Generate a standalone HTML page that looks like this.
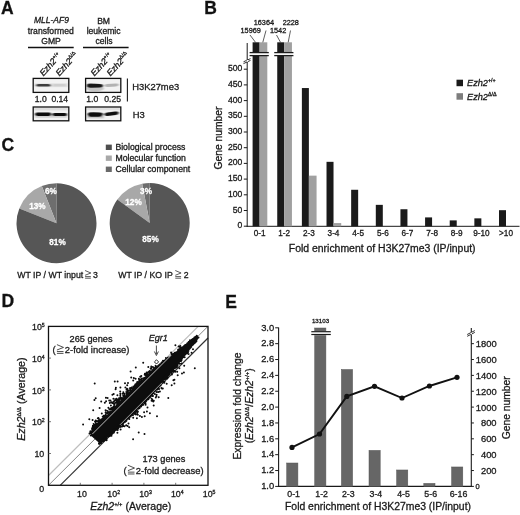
<!DOCTYPE html>
<html><head><meta charset="utf-8"><style>
html,body{margin:0;padding:0;background:#fff;}
svg{display:block;font-family:"Liberation Sans", sans-serif;fill:#1a1a1a;filter:blur(0.3px);}
text{stroke:#1a1a1a;stroke-width:0.3px;}
text[fill="#fff"]{stroke:#fff;}

</style></head><body>
<svg width="520" height="515" viewBox="0 0 520 515">
<rect width="520" height="515" fill="#fff"/>
<text x="1" y="14.4" font-size="17.5" text-anchor="start" font-weight="bold" fill="#111" >A</text>
<text x="204.2" y="14.2" font-size="17.5" text-anchor="start" font-weight="bold" fill="#111" >B</text>
<text x="1.4" y="151.3" font-size="17.5" text-anchor="start" font-weight="bold" fill="#111" >C</text>
<text x="1.5" y="307.4" font-size="17.5" text-anchor="start" font-weight="bold" fill="#111" >D</text>
<text x="225.3" y="308.1" font-size="17.5" text-anchor="start" font-weight="bold" fill="#111" >E</text>
<text x="51.4" y="22.9" font-size="8.5" text-anchor="middle" font-style="italic" >MLL-AF9</text>
<text x="50.8" y="34" font-size="8.6" text-anchor="middle" >transformed</text>
<text x="51" y="43.5" font-size="8.6" text-anchor="middle" >GMP</text>
<line x1="28" y1="47.5" x2="73.7" y2="47.5" stroke="#111" stroke-width="1.3" />
<text x="103.6" y="23.6" font-size="8.6" text-anchor="middle" >BM</text>
<text x="103.6" y="34" font-size="8.6" text-anchor="middle" >leukemic</text>
<text x="104" y="44.3" font-size="8.6" text-anchor="middle" >cells</text>
<line x1="83" y1="47.5" x2="128.6" y2="47.5" stroke="#111" stroke-width="1.3" />
<text transform="translate(43.4,76.6) rotate(-48)" font-size="8.8" font-style="italic">Ezh2<tspan font-size="5.2" dy="-3.6" font-style="normal">+/+</tspan></text>
<text transform="translate(59.4,76.6) rotate(-48)" font-size="8.8" font-style="italic">Ezh2<tspan font-size="5.2" dy="-3.6" font-style="normal">Δ/Δ</tspan></text>
<text transform="translate(94.6,76.6) rotate(-48)" font-size="8.8" font-style="italic">Ezh2<tspan font-size="5.2" dy="-3.6" font-style="normal">+/+</tspan></text>
<text transform="translate(110.6,76.6) rotate(-48)" font-size="8.8" font-style="italic">Ezh2<tspan font-size="5.2" dy="-3.6" font-style="normal">Δ/Δ</tspan></text>
<defs>
<filter id="bl" x="-20%" y="-50%" width="140%" height="200%"><feGaussianBlur stdDeviation="1.2 0.8"/></filter>
<filter id="bl2" x="-20%" y="-50%" width="140%" height="200%"><feGaussianBlur stdDeviation="1.0 0.75"/></filter>
<clipPath id="c1"><rect x="33.8" y="79" width="34.4" height="12.8"/></clipPath>
<clipPath id="c2"><rect x="86.2" y="79" width="34.2" height="12.8"/></clipPath>
<clipPath id="c3"><rect x="33.8" y="107.6" width="34.4" height="12.6"/></clipPath>
<clipPath id="c4"><rect x="86.2" y="107.6" width="34.2" height="12.6"/></clipPath>
</defs>
<rect x="33.8" y="79" width="34.4" height="12.8" fill="#f3f3f3" />
<g clip-path="url(#c1)" filter="url(#bl2)"><rect x="34.5" y="83.2" width="34" height="4" fill="#e4e4e4"/><path d="M35.6,85.2 Q35.8,83.9 39.5,83.9 L48.5,83.9 Q51.2,84.2 51.2,85.2 Q51.2,86.4 48.5,86.5 L39.5,86.6 Q35.8,86.5 35.6,85.2 Z" fill="#3c3c3c"/><rect x="52.6" y="84.0" width="13.6" height="2.6" rx="1.2" fill="#cfcfcf"/></g>
<rect x="33.2" y="78.4" width="35.6" height="14" fill="none" stroke="#111" stroke-width="1.3"/>
<rect x="86.2" y="79" width="34.2" height="12.8" fill="#f2f2f2" />
<g clip-path="url(#c2)" filter="url(#bl2)"><ellipse cx="95" cy="88.6" rx="9" ry="2.6" fill="#c4c4c4"/><path d="M86.6,85.6 Q86.8,83.6 90,83.6 L100,83.9 Q103.2,84.1 103.2,85.6 Q103.2,87.5 100,87.6 L90,87.7 Q86.8,87.6 86.6,85.6 Z" fill="#141414"/><path d="M104.4,85.6 Q104.6,84.2 107,84.1 L116,83.6 Q118.8,83.5 118.8,84.8 Q118.8,86.2 116,86.4 L107,87.0 Q104.4,87.0 104.4,85.6 Z" fill="#b2b2b2"/></g>
<rect x="85.6" y="78.4" width="35.2" height="14" fill="none" stroke="#111" stroke-width="1.3"/>
<rect x="33.8" y="107.6" width="34.4" height="12.6" fill="#f2f2f2" />
<g clip-path="url(#c3)" filter="url(#bl2)"><rect x="33.8" y="108" width="34.4" height="2.4" fill="#dedede"/><rect x="35" y="114.5" width="32" height="3.2" fill="#d0d0d0"/><rect x="35.2" y="112.6" width="16" height="3.3" rx="1.6" fill="#0a0a0a"/><rect x="52.4" y="112.9" width="14.6" height="3.0" rx="1.5" fill="#101010"/></g>
<rect x="33.2" y="107" width="35.6" height="13.8" fill="none" stroke="#111" stroke-width="1.3"/>
<rect x="86.2" y="107.6" width="34.2" height="12.6" fill="#f2f2f2" />
<g clip-path="url(#c4)" filter="url(#bl2)"><rect x="86.2" y="108" width="34.2" height="2.2" fill="#e0e0e0"/><rect x="87" y="115.4" width="17" height="3" fill="#c8c8c8"/><path d="M87.6,114.4 Q87.8,112.1 91.5,112.2 L100,112.4 Q103,112.6 102.9,114.2 Q102.8,116.7 99,116.7 L91.5,116.8 Q87.7,116.7 87.6,114.4 Z" fill="#0a0a0a"/><path d="M104.4,114.4 Q104.6,112.6 107.5,112.6 L115,111.6 Q118.6,111.2 118.6,112.8 Q118.6,114.6 115.5,115.0 L107.5,116.0 Q104.4,116.2 104.4,114.4 Z" fill="#0a0a0a"/></g>
<rect x="85.6" y="107" width="35.2" height="13.8" fill="none" stroke="#111" stroke-width="1.3"/>
<text x="40.8" y="102.4" font-size="8.6" text-anchor="middle" >1.0</text>
<text x="59.8" y="102.4" font-size="8.6" text-anchor="middle" >0.14</text>
<text x="92.2" y="102.4" font-size="8.6" text-anchor="middle" >1.0</text>
<text x="112.7" y="102.4" font-size="8.6" text-anchor="middle" >0.25</text>
<line x1="127.4" y1="78.4" x2="127.4" y2="101.6" stroke="#1a1a1a" stroke-width="1.1" />
<text x="132.2" y="89.6" font-size="9.4" text-anchor="start" >H3K27me3</text>
<text x="132.8" y="118.2" font-size="9.4" text-anchor="start" >H3</text>
<line x1="247.2" y1="43" x2="247.2" y2="226.8" stroke="#1a1a1a" stroke-width="1.0" />
<line x1="246.7" y1="226.3" x2="519.5" y2="226.3" stroke="#1a1a1a" stroke-width="1.0" />
<line x1="243.8" y1="226.2" x2="247.2" y2="226.2" stroke="#1a1a1a" stroke-width="1.0" />
<text x="242.3" y="228.2" font-size="8.6" text-anchor="end" >0</text>
<line x1="243.8" y1="210.5" x2="247.2" y2="210.5" stroke="#1a1a1a" stroke-width="1.0" />
<text x="242.3" y="212.5" font-size="8.6" text-anchor="end" >50</text>
<line x1="243.8" y1="194.79999999999998" x2="247.2" y2="194.79999999999998" stroke="#1a1a1a" stroke-width="1.0" />
<text x="242.3" y="196.79999999999998" font-size="8.6" text-anchor="end" >100</text>
<line x1="243.8" y1="179.1" x2="247.2" y2="179.1" stroke="#1a1a1a" stroke-width="1.0" />
<text x="242.3" y="181.1" font-size="8.6" text-anchor="end" >150</text>
<line x1="243.8" y1="163.39999999999998" x2="247.2" y2="163.39999999999998" stroke="#1a1a1a" stroke-width="1.0" />
<text x="242.3" y="165.39999999999998" font-size="8.6" text-anchor="end" >200</text>
<line x1="243.8" y1="147.7" x2="247.2" y2="147.7" stroke="#1a1a1a" stroke-width="1.0" />
<text x="242.3" y="149.7" font-size="8.6" text-anchor="end" >250</text>
<line x1="243.8" y1="132.0" x2="247.2" y2="132.0" stroke="#1a1a1a" stroke-width="1.0" />
<text x="242.3" y="134.0" font-size="8.6" text-anchor="end" >300</text>
<line x1="243.8" y1="116.29999999999998" x2="247.2" y2="116.29999999999998" stroke="#1a1a1a" stroke-width="1.0" />
<text x="242.3" y="118.29999999999998" font-size="8.6" text-anchor="end" >350</text>
<line x1="243.8" y1="100.6" x2="247.2" y2="100.6" stroke="#1a1a1a" stroke-width="1.0" />
<text x="242.3" y="102.6" font-size="8.6" text-anchor="end" >400</text>
<line x1="243.8" y1="84.89999999999998" x2="247.2" y2="84.89999999999998" stroke="#1a1a1a" stroke-width="1.0" />
<text x="242.3" y="86.89999999999998" font-size="8.6" text-anchor="end" >450</text>
<line x1="243.8" y1="69.19999999999999" x2="247.2" y2="69.19999999999999" stroke="#1a1a1a" stroke-width="1.0" />
<text x="242.3" y="71.19999999999999" font-size="8.6" text-anchor="end" >500</text>
<line x1="243.5" y1="61.8" x2="250.5" y2="58.6" stroke="#1a1a1a" stroke-width="0.9" />
<line x1="243.5" y1="63.6" x2="250.5" y2="60.4" stroke="#1a1a1a" stroke-width="0.9" />
<rect x="246.6" y="60.0" width="1.4" height="1.8" fill="#fff" />
<rect x="252.6" y="42.3" width="7" height="184.0" fill="#1a1a1a" />
<rect x="259.6" y="42.3" width="7.7" height="184.0" fill="#a0a0a0" />
<rect x="249.6" y="52.2" width="19.2" height="3.8" fill="#fff" />
<line x1="249.6" y1="52.6" x2="268.8" y2="52.6" stroke="#1a1a1a" stroke-width="1.3" />
<line x1="249.6" y1="55.6" x2="268.8" y2="55.6" stroke="#1a1a1a" stroke-width="1.3" />
<text x="259.6" y="236.4" font-size="8.2" text-anchor="middle" >0-1</text>
<rect x="277.24" y="42.3" width="7" height="184.0" fill="#1a1a1a" />
<rect x="284.24" y="42.3" width="7.7" height="184.0" fill="#a0a0a0" />
<rect x="274.24" y="52.2" width="19.2" height="3.8" fill="#fff" />
<line x1="274.24" y1="52.6" x2="293.44" y2="52.6" stroke="#1a1a1a" stroke-width="1.3" />
<line x1="274.24" y1="55.6" x2="293.44" y2="55.6" stroke="#1a1a1a" stroke-width="1.3" />
<text x="284.24" y="236.4" font-size="8.2" text-anchor="middle" >1-2</text>
<rect x="301.88" y="88.03999999999999" width="7" height="138.26000000000002" fill="#1a1a1a" />
<rect x="308.88" y="175.646" width="7.7" height="50.654000000000025" fill="#a0a0a0" />
<text x="308.88" y="236.4" font-size="8.2" text-anchor="middle" >2-3</text>
<rect x="326.52" y="161.82999999999998" width="7" height="64.47000000000003" fill="#1a1a1a" />
<rect x="333.52" y="223.06" width="7.7" height="3.240000000000009" fill="#a0a0a0" />
<text x="333.52" y="236.4" font-size="8.2" text-anchor="middle" >3-4</text>
<rect x="351.15999999999997" y="189.77599999999998" width="7" height="36.52400000000003" fill="#1a1a1a" />
<text x="358.15999999999997" y="236.4" font-size="8.2" text-anchor="middle" >4-5</text>
<rect x="375.8" y="204.84799999999998" width="7" height="21.452000000000027" fill="#1a1a1a" />
<text x="382.8" y="236.4" font-size="8.2" text-anchor="middle" >5-6</text>
<rect x="400.44" y="209.244" width="7" height="17.05600000000001" fill="#1a1a1a" />
<text x="407.44" y="236.4" font-size="8.2" text-anchor="middle" >6-7</text>
<rect x="425.08000000000004" y="217.408" width="7" height="8.892000000000024" fill="#1a1a1a" />
<text x="432.08000000000004" y="236.4" font-size="8.2" text-anchor="middle" >7-8</text>
<rect x="449.72" y="220.391" width="7" height="5.90900000000002" fill="#1a1a1a" />
<text x="456.72" y="236.4" font-size="8.2" text-anchor="middle" >8-9</text>
<rect x="474.36" y="218.35" width="7" height="7.950000000000017" fill="#1a1a1a" />
<text x="481.36" y="236.4" font-size="8.2" text-anchor="middle" >9-10</text>
<rect x="499.0" y="210.18599999999998" width="7" height="16.114000000000033" fill="#1a1a1a" />
<text x="506.0" y="236.4" font-size="8.2" text-anchor="middle" >&gt;10</text>
<text x="250.7" y="32.8" font-size="7.3" text-anchor="middle" >15969</text>
<text x="263.9" y="24.7" font-size="7.3" text-anchor="middle" >16364</text>
<text x="278.1" y="32.8" font-size="7.3" text-anchor="middle" >1542</text>
<text x="290.8" y="24.7" font-size="7.3" text-anchor="middle" >2228</text>
<line x1="250" y1="35" x2="255.5" y2="42.3" stroke="#1a1a1a" stroke-width="0.7" />
<line x1="266" y1="30.5" x2="262.8" y2="42.3" stroke="#1a1a1a" stroke-width="0.7" />
<line x1="276.5" y1="35" x2="280.5" y2="42.3" stroke="#1a1a1a" stroke-width="0.7" />
<line x1="290.5" y1="30.5" x2="288.2" y2="42.3" stroke="#1a1a1a" stroke-width="0.7" />
<text x="382.2" y="251.6" font-size="10.45" text-anchor="middle" >Fold enrichment of H3K27me3 (IP/input)</text>
<text transform="translate(222,138) rotate(-90)" font-size="10.3" text-anchor="middle">Gene number</text>
<rect x="456.5" y="79.7" width="6.5" height="6.5" fill="#1a1a1a" />
<rect x="456.5" y="93.2" width="6.5" height="6.5" fill="#7d7d7d" />
<text x="467" y="86.2" font-size="9.2" font-style="italic">Ezh2<tspan font-size="5.4" dy="-3.8" font-style="normal">+/+</tspan></text>
<text x="467" y="99.8" font-size="9.2" font-style="italic">Ezh2<tspan font-size="5.4" dy="-3.8" font-style="normal">Δ/Δ</tspan></text>
<rect x="105.8" y="144.6" width="6" height="5.4" fill="#4e4e4e" />
<text x="115.4" y="150.1" font-size="8.7" text-anchor="start" >Biological process</text>
<rect x="105.8" y="155.5" width="6" height="5.4" fill="#a8a8a8" />
<text x="115.4" y="161" font-size="8.7" text-anchor="start" >Molecular function</text>
<rect x="105.8" y="166.6" width="6" height="5.4" fill="#6a6a6a" />
<text x="115.4" y="172.2" font-size="8.7" text-anchor="start" >Cellular component</text>
<path d="M56.5,223.2 L56.50,183.20 A40,40 0 0 0 41.78,186.01 Z" fill="#6e6e6e"/>
<path d="M56.5,223.2 L41.78,186.01 A40,40 0 0 0 19.31,208.48 Z" fill="#a8a8a8"/>
<path d="M56.5,223.2 L19.31,208.48 A40,40 0 1 0 56.50,183.20 Z" fill="#565656"/>
<path d="M149.7,223 L149.70,183.00 A40,40 0 0 0 142.20,183.71 Z" fill="#6e6e6e"/>
<path d="M149.7,223 L142.20,183.71 A40,40 0 0 0 117.34,199.49 Z" fill="#a8a8a8"/>
<path d="M149.7,223 L117.34,199.49 A40,40 0 1 0 149.70,183.00 Z" fill="#565656"/>
<text x="50.8" y="194.2" font-size="8.2" text-anchor="middle" font-weight="bold" fill="#fff" >6%</text>
<text x="37.4" y="208.6" font-size="8.2" text-anchor="middle" font-weight="bold" fill="#fff" >13%</text>
<text x="57.5" y="244.6" font-size="8.2" text-anchor="middle" font-weight="bold" fill="#fff" >81%</text>
<text x="146" y="194.2" font-size="8.2" text-anchor="middle" font-weight="bold" fill="#fff" >3%</text>
<text x="133.5" y="205" font-size="8.2" text-anchor="middle" font-weight="bold" fill="#fff" >12%</text>
<text x="150.5" y="242.4" font-size="8.2" text-anchor="middle" font-weight="bold" fill="#fff" >85%</text>
<text x="17.3" y="278.3" font-size="8.72" text-anchor="start" >WT IP / WT input</text>
<g transform="translate(84.8,278.5) scale(0.95)" stroke="#1a1a1a" stroke-width="0.75" fill="none"><polyline points="0.3,-8.4 6.4,-5.8 0.3,-3.4"/><line x1="0.3" y1="-2" x2="6.4" y2="-2"/><line x1="0.3" y1="-0.3" x2="6.4" y2="-0.3"/></g>
<text x="93" y="278.3" font-size="8.72" text-anchor="start" >3</text>
<text x="118.3" y="278.3" font-size="8.72" text-anchor="start" >WT IP / KO IP</text>
<g transform="translate(175,278.5) scale(0.95)" stroke="#1a1a1a" stroke-width="0.75" fill="none"><polyline points="0.3,-8.4 6.4,-5.8 0.3,-3.4"/><line x1="0.3" y1="-2" x2="6.4" y2="-2"/><line x1="0.3" y1="-0.3" x2="6.4" y2="-0.3"/></g>
<text x="183.8" y="278.3" font-size="8.72" text-anchor="start" >2</text>
<line x1="48.5" y1="475.5" x2="198.2" y2="326.3" stroke="#bdbdbd" stroke-width="1.2" />
<line x1="48.5" y1="485.3" x2="208" y2="326.3" stroke="#666" stroke-width="0.8" />
<line x1="60.2" y1="485.3" x2="208" y2="338.0" stroke="#333" stroke-width="1.2" />
<polygon points="90.8,435.6 93.9,430.7 103.6,420.4 138.7,385.5 152.0,372.8 164.8,361.6 176.0,352.8 184.8,345.6 191.4,340.2 196.9,335.7 198.6,337.4 194.4,343.2 189.0,349.8 181.7,358.5 172.4,369.2 161.2,382.0 148.9,395.7 134.3,411.1 119.3,426.1 108.8,435.6 99.2,443.1" fill="#0d0d0d"/>
<path d="M102.0 420.3h0M93.0 431.9h0M96.7 427.0h0M154.6 371.3h0M158.9 367.1h0M178.6 361.1h0M181.6 358.2h0M121.4 424.0h0M136.5 408.5h0M179.9 359.5h0M137.5 386.1h0M185.5 345.7h0M160.2 366.3h0M112.2 412.3h0M125.0 398.6h0M162.9 364.0h0M117.2 429.0h0M162.0 364.4h0M184.3 354.8h0M122.5 401.9h0M101.4 441.1h0M113.4 432.0h0M105.4 437.4h0M102.1 441.4h0M99.1 424.8h0M165.2 360.2h0M112.4 412.4h0M196.6 339.8h0M133.3 388.3h0M94.2 430.8h0M126.4 420.7h0M156.4 388.7h0M178.0 361.9h0M154.5 370.3h0M178.4 361.3h0M93.6 431.1h0M196.7 335.8h0M124.6 395.9h0M155.0 368.7h0M107.9 436.5h0M93.5 430.3h0M156.2 369.8h0M125.4 397.7h0M141.9 405.3h0M108.6 435.6h0M190.1 348.1h0M180.4 359.0h0M137.5 386.6h0M172.0 368.7h0M128.8 418.5h0M103.1 419.5h0M129.8 415.7h0M125.9 421.3h0M166.9 360.4h0M142.7 402.0h0M142.0 380.1h0M99.3 424.3h0M92.9 431.8h0M178.3 361.6h0M169.5 358.6h0M134.9 409.6h0M115.8 429.1h0M174.8 366.2h0M146.0 398.6h0M156.9 387.3h0M175.0 354.4h0M111.7 434.2h0M109.0 435.1h0M143.9 400.4h0M153.9 371.6h0M141.5 383.4h0M181.7 348.9h0M96.4 427.3h0M103.6 439.2h0M102.0 422.0h0M171.5 369.2h0M126.3 418.4h0M133.5 388.4h0M193.8 338.6h0M137.8 408.0h0M95.7 429.5h0M174.0 366.5h0M93.4 428.9h0M188.1 350.1h0M168.2 359.3h0M149.0 375.3h0M180.9 359.0h0M112.0 432.6h0M160.0 366.1h0M130.8 415.5h0M170.0 372.3h0M193.3 338.8h0M117.5 429.4h0M123.7 400.1h0M130.8 393.4h0M140.0 404.2h0M189.4 348.8h0M174.5 354.5h0M130.6 393.5h0M174.4 354.7h0M147.9 396.6h0M137.5 407.3h0M99.8 442.3h0M182.0 348.5h0M90.7 431.8h0M113.4 411.6h0M128.0 395.6h0M184.3 346.3h0M149.9 375.7h0M122.0 401.4h0M158.0 388.7h0M157.9 367.5h0M188.4 350.0h0M181.8 357.3h0M91.9 433.5h0M161.8 364.9h0M169.8 357.9h0M93.1 427.9h0M161.2 365.3h0M177.7 351.9h0M115.0 408.9h0M113.1 432.7h0M131.8 413.5h0M129.1 395.8h0M92.8 432.4h0M118.6 405.5h0M184.1 347.0h0M171.8 369.4h0M108.4 416.4h0M171.1 370.3h0M133.3 391.3h0M170.0 371.5h0M127.2 392.7h0M149.4 394.8h0M179.3 349.6h0M189.0 342.8h0M99.6 425.3h0M180.6 358.8h0M162.5 380.2h0M183.3 356.4h0M119.3 425.7h0M164.7 377.1h0M134.3 412.2h0M184.5 345.8h0M114.9 406.5h0M133.3 413.4h0M195.0 337.8h0M177.6 363.3h0M165.6 361.5h0M112.6 410.4h0M148.4 395.4h0M181.6 357.9h0M193.2 339.4h0M111.8 409.6h0M105.0 418.8h0M137.7 408.1h0M174.3 366.1h0M144.7 379.2h0M112.3 411.2h0M148.7 375.1h0M178.3 351.8h0M104.8 437.9h0M173.3 368.1h0M188.3 343.6h0M168.9 373.4h0M138.9 385.5h0M196.8 339.5h0M178.9 361.7h0M195.1 337.9h0M154.4 390.1h0M159.8 366.4h0M191.3 346.3h0M152.1 391.5h0M185.6 345.9h0M134.1 412.8h0M171.3 369.6h0M110.8 434.6h0M160.6 363.9h0M135.3 387.8h0M154.4 371.6h0M118.8 404.2h0M190.0 342.0h0M188.6 342.5h0M104.4 439.9h0M119.2 426.8h0M194.6 341.8h0M197.1 338.5h0M180.0 349.9h0M141.3 382.9h0M128.2 418.6h0M193.2 344.1h0M150.1 373.9h0M170.0 358.2h0M136.6 385.8h0M135.5 389.1h0M120.5 402.1h0M105.1 415.5h0M191.0 340.9h0M109.6 414.9h0M96.1 425.3h0M150.5 396.5h0M107.3 417.5h0M105.9 415.5h0M164.8 362.0h0M95.1 426.0h0M161.3 365.5h0M168.9 372.4h0M185.8 344.8h0M158.3 386.5h0M196.2 339.6h0M162.0 363.1h0M121.5 403.3h0M100.2 443.3h0M168.8 358.7h0M118.1 426.6h0M177.7 362.1h0M163.1 363.5h0M111.0 433.1h0M124.0 397.3h0M137.1 382.8h0M129.0 415.7h0M186.7 352.1h0M128.8 417.2h0M191.8 339.8h0M163.4 362.5h0M122.7 399.8h0M146.3 398.1h0M178.5 349.9h0M93.2 431.2h0M136.0 388.5h0M185.1 354.5h0M139.8 404.3h0M175.3 366.4h0M134.6 389.8h0M176.7 364.0h0M146.3 401.1h0M181.8 359.0h0M128.1 395.6h0M166.0 361.1h0M170.8 357.2h0M180.6 359.3h0M190.1 347.6h0M134.2 410.4h0M101.8 422.2h0M107.6 417.3h0M159.3 384.6h0M99.4 424.6h0M132.2 390.8h0M100.8 424.1h0M129.9 416.7h0M119.3 405.0h0M146.3 398.6h0M105.4 438.6h0M149.9 375.5h0M128.6 416.2h0M190.5 347.8h0M124.7 421.7h0M152.5 391.5h0M135.4 410.8h0M138.3 384.4h0M157.4 385.2h0M119.6 403.2h0M97.5 425.5h0M136.0 387.7h0M124.1 421.5h0M150.7 372.8h0M149.0 396.1h0M161.4 364.3h0M114.7 407.3h0M130.5 389.9h0M151.8 373.7h0M169.2 372.2h0M136.9 408.4h0M160.4 365.3h0M130.0 393.7h0M99.6 443.1h0M138.5 406.3h0M195.0 338.0h0M141.9 402.8h0M133.6 391.2h0M131.9 392.9h0M135.5 388.6h0M143.7 381.2h0M190.8 341.6h0M154.1 391.5h0M168.0 373.3h0M160.9 365.6h0M174.0 368.0h0M133.6 412.2h0M193.5 343.4h0M133.9 411.9h0M160.0 366.7h0M126.0 419.4h0M143.9 400.4h0M130.8 413.8h0M123.7 400.8h0M146.7 378.0h0M117.2 427.0h0M110.2 412.3h0M181.1 359.3h0M169.1 373.5h0M118.6 426.4h0M155.9 366.8h0M98.8 422.9h0M136.7 411.3h0M129.7 395.2h0M123.4 421.1h0M175.6 353.0h0M135.9 409.8h0M166.0 360.5h0M90.4 431.3h0M182.9 356.5h0M132.1 413.5h0M127.5 418.1h0M136.9 408.5h0M122.2 422.4h0M172.7 367.9h0M149.7 374.5h0M159.7 365.9h0M147.4 397.8h0M108.7 435.2h0M97.7 425.7h0M143.8 380.5h0M125.5 420.0h0M184.6 354.4h0M109.5 435.2h0M175.0 367.3h0M100.8 442.4h0M185.6 344.9h0M92.6 432.6h0M154.8 391.0h0M147.4 396.9h0M143.3 404.7h0M119.1 426.2h0M130.2 392.4h0M149.6 376.0h0M164.1 377.9h0M139.3 405.3h0M103.5 439.0h0M103.6 417.2h0M136.9 408.6h0M102.4 419.8h0M134.0 390.5h0M192.6 344.7h0M116.3 406.6h0M112.9 409.0h0M127.2 418.0h0M100.2 421.5h0M185.7 353.4h0M124.7 420.6h0M131.9 392.8h0M163.4 378.5h0M152.8 390.5h0M103.8 420.3h0M139.6 405.2h0M120.6 424.1h0M116.8 408.2h0M130.8 416.4h0M161.8 381.2h0M102.7 440.4h0M109.4 409.3h0M182.3 348.3h0M180.0 360.7h0M160.2 365.5h0M156.9 387.3h0M127.3 417.4h0M119.4 425.0h0M152.2 391.7h0M150.3 394.5h0M190.6 341.5h0M119.6 405.1h0M178.1 351.1h0M133.3 411.4h0M147.4 397.3h0M183.6 347.0h0M177.8 362.6h0M104.6 417.3h0M140.4 404.1h0M168.4 373.0h0M92.9 425.7h0M166.0 377.1h0M178.8 362.0h0M186.0 353.3h0M175.9 353.2h0M188.5 343.1h0M113.6 430.6h0M173.5 353.7h0M190.2 347.4h0M163.2 379.3h0M116.0 408.9h0M154.0 370.4h0M151.0 374.4h0M114.0 409.4h0M134.9 410.0h0M101.8 421.5h0M171.6 371.0h0M141.2 383.0h0M174.8 365.8h0M144.7 377.8h0M151.4 372.1h0M168.1 359.0h0M121.5 423.4h0M169.3 372.1h0M123.3 423.3h0M171.1 357.1h0M164.4 362.5h0M145.6 398.8h0M190.8 340.9h0M197.7 337.6h0M162.4 362.9h0M175.5 365.0h0M180.9 359.0h0M187.2 344.1h0M181.7 348.0h0M145.3 378.3h0M192.5 344.5h0M175.7 366.3h0M102.6 422.4h0M150.4 375.3h0M124.8 399.0h0M112.6 411.9h0M115.2 408.0h0M104.2 438.9h0M115.1 429.8h0M166.3 361.3h0M127.7 394.3h0M115.2 409.1h0M161.5 364.6h0M178.5 351.5h0M156.1 387.9h0M184.5 346.4h0M157.5 367.6h0M160.2 366.0h0M143.2 400.9h0M107.3 435.9h0M142.5 404.3h0M94.8 429.0h0M177.8 363.0h0M113.1 408.5h0M121.1 424.6h0M112.3 433.1h0M101.7 440.5h0M127.5 418.2h0M168.6 374.6h0M134.4 388.4h0M135.4 389.4h0M168.8 372.4h0M155.5 369.5h0M115.5 407.8h0M123.8 421.5h0M139.3 405.3h0M177.7 363.9h0M131.5 413.4h0M185.1 345.1h0M138.3 385.3h0M181.5 360.3h0M134.2 388.4h0M94.4 430.5h0M184.8 354.1h0M182.2 347.3h0M113.5 406.7h0M124.5 396.9h0M179.6 360.8h0M115.5 407.2h0M92.7 432.2h0M111.7 432.9h0M112.1 409.8h0M134.9 387.6h0M185.9 344.9h0M150.8 374.9h0M195.8 337.1h0M154.0 371.7h0M107.4 436.6h0M95.6 429.6h0M117.1 405.7h0M177.8 362.9h0M182.0 357.6h0M157.7 368.0h0M177.1 352.4h0M180.3 349.7h0M122.2 401.5h0M149.1 396.5h0M193.2 344.5h0M171.7 354.5h0M151.1 371.5h0M162.6 379.7h0M123.1 425.9h0M154.1 370.6h0M120.3 403.3h0M167.2 375.8h0M121.6 423.9h0M166.5 375.1h0M104.3 418.7h0M173.8 366.9h0M170.2 371.9h0M104.9 439.1h0M99.3 423.3h0M173.4 354.1h0M170.2 371.9h0M109.3 435.8h0M175.6 353.3h0M174.6 354.4h0M103.3 441.3h0M140.0 406.9h0M181.7 348.1h0M139.9 404.9h0M166.5 375.0h0M148.9 376.1h0M129.5 414.9h0M140.6 403.5h0M148.0 376.7h0M166.4 375.0h0M116.2 429.7h0M187.8 343.9h0M136.5 388.4h0M196.6 339.6h0M190.2 341.2h0M106.9 416.3h0M166.8 375.0h0M164.8 378.7h0M141.8 381.4h0M160.3 366.1h0M174.7 353.7h0M176.5 352.7h0M187.1 344.4h0M187.3 344.2h0M189.8 342.0h0M165.0 376.6h0M163.6 378.5h0M96.1 425.9h0M142.5 401.9h0M131.6 392.8h0M154.5 390.8h0M179.7 360.8h0M195.1 341.3h0M195.9 341.0h0M112.6 408.5h0M118.7 404.0h0M150.3 373.1h0M132.8 388.5h0M151.9 392.0h0M169.6 372.5h0M148.5 376.5h0M101.3 441.1h0M184.3 346.5h0M195.1 341.2h0M183.3 355.5h0M172.3 369.3h0M172.1 369.3h0M179.9 360.0h0M147.9 396.0h0M154.8 369.3h0M128.8 417.5h0M132.7 411.8h0M117.8 405.0h0M167.7 359.6h0M122.9 399.0h0M103.4 420.4h0M136.6 409.7h0M147.5 376.9h0M91.9 434.9h0M181.7 358.2h0M153.5 390.3h0M173.6 368.1h0M146.6 399.5h0M109.4 434.4h0M188.7 349.4h0M169.4 358.6h0M196.7 338.9h0M145.2 400.2h0M196.5 339.4h0M179.6 359.9h0M153.1 369.8h0M133.2 391.0h0M120.9 424.1h0M187.7 343.4h0M124.5 421.8h0M185.6 345.1h0M152.3 371.8h0M129.7 414.7h0M100.3 441.4h0M160.6 364.3h0M131.7 391.3h0M153.7 389.5h0M106.1 437.0h0M166.6 360.5h0M123.5 399.1h0M160.5 382.1h0M146.1 398.2h0M171.2 369.7h0M146.5 399.0h0M148.5 376.6h0M116.5 406.8h0M176.3 352.3h0M128.7 394.6h0M143.5 402.4h0M196.5 339.8h0M90.3 431.8h0M167.1 360.0h0M123.3 401.6h0M120.5 403.9h0M193.2 343.6h0M95.6 426.4h0M147.1 397.8h0M148.5 375.8h0M108.4 435.0h0M171.2 356.2h0M174.0 353.6h0M117.4 428.0h0M173.3 355.7h0M163.7 361.8h0M147.8 396.2h0M157.1 386.1h0M193.2 339.5h0M91.3 432.1h0M122.7 424.0h0M158.4 385.8h0M114.6 409.3h0M114.5 429.8h0M189.5 348.1h0M124.3 397.8h0M162.0 380.1h0M111.2 432.4h0M97.7 426.9h0M137.6 408.2h0M129.6 415.7h0M115.3 429.2h0M195.6 340.9h0M94.3 430.3h0M158.7 385.4h0M145.4 399.3h0M120.6 404.3h0M162.1 364.8h0M91.6 432.2h0M180.7 359.0h0M126.8 419.3h0M190.4 347.7h0M193.9 339.0h0M114.5 406.5h0M122.4 423.4h0M116.7 405.9h0M164.1 377.7h0M187.6 343.9h0M169.9 357.2h0M109.8 436.1h0M169.9 372.4h0M135.2 413.2h0M104.2 417.4h0M100.8 423.8h0M135.2 386.7h0M139.8 385.0h0M168.5 373.1h0M101.7 440.4h0M166.5 361.0h0M109.9 434.9h0M161.8 362.4h0M93.4 432.0h0M148.7 375.5h0M187.2 343.5h0M111.6 433.4h0M165.9 358.1h0M165.8 375.8h0M111.9 411.5h0M144.6 380.3h0M114.1 406.1h0M169.3 357.5h0M116.0 407.3h0M104.1 438.4h0M144.2 379.8h0M143.1 381.8h0M100.1 442.7h0M165.0 362.1h0M185.6 345.4h0M151.2 393.2h0M156.6 367.6h0M92.2 432.6h0M111.2 435.0h0M178.6 362.0h0M176.8 363.2h0M147.4 397.1h0M148.8 376.0h0M124.4 399.1h0M131.1 414.4h0M113.3 432.2h0M141.5 380.1h0M175.0 367.9h0M99.3 443.1h0M145.6 400.9h0M130.2 392.6h0M134.8 389.5h0M140.9 404.3h0M163.1 380.3h0M97.1 428.1h0M144.6 379.7h0M183.2 356.4h0M114.0 429.9h0M125.8 397.7h0M163.7 378.4h0M164.5 361.6h0M115.7 429.3h0M189.9 347.7h0M106.8 418.0h0M162.0 362.4h0M124.3 398.7h0M187.5 351.4h0M117.5 427.1h0M197.4 338.3h0M168.0 373.8h0M110.8 413.6h0M140.4 405.9h0M174.4 365.9h0M196.9 338.9h0M128.6 395.6h0M189.6 341.4h0M150.6 372.5h0M172.1 356.2h0M98.6 424.1h0M100.5 441.5h0M129.4 416.4h0M194.3 338.6h0M168.0 375.8h0M124.1 400.5h0M178.1 349.8h0M164.7 379.2h0M124.2 400.3h0M154.1 389.2h0M161.3 381.4h0M129.1 395.4h0M155.0 370.7h0M146.7 377.8h0M141.1 403.8h0M146.4 378.3h0M123.9 400.9h0M136.1 388.0h0M112.0 409.5h0M152.4 370.4h0M186.4 352.6h0M195.2 341.1h0M113.7 430.8h0M162.4 362.4h0M135.6 409.0h0M148.7 395.1h0M141.5 402.5h0M190.9 346.9h0M128.9 415.6h0M108.5 436.1h0M157.9 386.8h0M137.6 406.9h0M169.4 373.5h0M177.8 362.5h0M93.5 430.6h0M193.1 339.0h0M119.9 404.3h0M184.2 355.1h0M139.2 405.7h0M132.0 414.6h0M178.7 363.5h0M172.1 355.8h0M136.0 386.8h0M194.6 338.0h0M155.5 388.5h0M167.7 373.5h0M103.2 418.8h0M111.3 433.9h0M140.9 379.6h0M154.2 389.4h0M169.6 358.7h0M154.8 388.2h0M140.1 383.8h0M131.7 414.4h0M163.7 361.8h0M194.6 342.5h0M102.2 421.7h0M140.5 379.8h0M123.2 421.9h0M196.6 339.3h0M108.3 414.2h0M101.7 422.0h0M172.8 368.5h0M131.4 414.9h0M192.8 339.8h0M97.0 427.4h0M170.3 357.8h0M189.5 348.8h0M182.3 358.1h0M191.9 340.4h0M165.9 377.0h0M162.3 362.4h0M193.7 343.5h0M179.6 361.0h0M185.5 353.5h0M194.4 342.8h0M144.2 402.0h0M178.4 349.6h0M104.4 438.9h0M120.4 424.5h0M183.6 355.6h0M119.0 405.3h0M105.9 438.8h0M102.1 419.4h0M94.5 429.2h0M172.1 356.1h0M177.3 363.1h0M196.1 337.0h0M167.7 359.7h0M144.8 379.3h0M179.1 351.1h0M159.1 384.5h0M123.9 422.0h0M137.9 385.6h0M154.7 390.7h0M172.9 356.0h0M114.8 408.6h0M173.0 368.6h0M122.4 423.8h0M113.2 411.8h0M188.9 349.2h0M186.1 344.8h0M175.5 353.5h0M97.3 426.3h0M134.1 389.8h0M134.0 387.3h0M100.1 442.0h0M139.5 384.3h0M139.6 384.0h0M172.3 355.0h0M172.3 368.4h0M105.2 437.5h0M104.3 440.5h0M98.4 425.1h0M149.3 376.1h0M137.6 407.7h0M104.9 438.5h0M114.0 432.5h0M137.6 406.6h0M179.3 360.7h0M97.4 423.6h0M116.2 408.2h0M184.3 354.3h0M120.5 403.6h0M179.0 351.0h0M129.1 395.1h0M170.3 372.0h0M108.2 416.5h0M122.6 423.0h0M118.1 426.3h0M196.6 340.0h0M159.9 364.3h0M184.8 346.4h0M159.0 366.3h0M119.9 404.7h0M114.6 429.5h0M141.1 406.6h0M174.3 354.3h0M110.9 433.3h0M112.0 413.0h0M187.8 350.3h0M152.1 372.1h0M159.2 367.0h0M143.5 380.1h0M181.5 358.0h0M169.5 374.4h0M164.0 362.9h0M124.0 399.0h0M119.1 405.1h0M192.5 344.7h0M167.7 373.9h0M100.0 420.7h0M133.3 411.9h0M102.6 421.0h0M178.1 351.3h0M194.0 338.4h0M158.2 367.0h0M100.3 420.6h0M129.7 395.3h0M148.7 376.3h0M188.7 349.5h0M173.7 367.1h0M140.7 404.6h0M147.9 396.1h0M169.2 371.8h0M138.3 386.5h0M131.7 391.5h0M150.8 373.9h0M155.4 389.7h0M155.6 368.5h0M115.3 409.5h0M166.8 377.7h0M115.1 407.9h0M135.5 410.3h0M95.9 426.6h0M105.8 414.5h0M175.7 367.7h0M106.6 440.2h0M119.5 402.2h0M107.2 417.3h0M132.0 412.6h0M111.1 432.8h0M123.7 420.8h0M160.5 366.2h0M195.2 342.1h0M166.7 376.3h0M144.9 398.9h0M197.7 337.5h0M195.3 341.1h0M138.2 406.1h0M156.7 386.9h0M147.3 398.0h0M110.9 412.3h0M149.9 374.1h0M186.7 352.0h0M115.4 409.4h0M159.9 365.9h0M106.0 418.8h0M152.1 373.6h0M101.3 422.0h0M179.2 360.5h0M181.9 358.1h0M193.4 339.2h0M144.9 379.1h0M99.2 443.9h0M176.7 363.8h0M182.7 348.0h0M156.4 367.2h0M139.8 385.2h0M183.8 355.0h0M154.1 389.1h0M179.8 361.3h0M130.3 392.1h0M170.3 371.2h0M161.9 381.3h0M164.1 361.1h0M130.6 415.9h0M133.1 412.5h0M183.5 347.0h0M186.5 352.2h0M149.1 394.7h0M125.3 421.5h0M93.7 427.9h0M99.9 424.9h0M195.7 340.8h0M121.5 426.5h0M133.4 386.4h0M150.0 393.6h0M98.5 422.7h0M158.8 383.8h0M175.4 353.7h0M187.8 350.3h0M89.5 433.5h0M163.4 362.8h0M175.8 352.9h0M196.4 341.2h0M156.7 388.0h0M186.4 351.9h0M149.8 375.5h0M109.5 413.5h0M153.8 390.5h0M151.3 371.9h0M195.2 341.0h0M186.4 353.1h0M112.5 431.7h0M153.1 369.9h0M183.2 355.6h0M129.4 394.2h0M124.0 420.7h0M186.5 344.5h0M119.3 426.0h0M122.8 401.7h0M189.4 342.1h0M178.7 361.8h0M106.5 439.0h0M141.6 404.9h0M158.2 385.5h0M194.7 341.9h0M176.8 363.3h0M149.5 372.6h0M134.4 410.5h0M93.2 432.6h0M138.1 408.1h0M194.5 343.3h0M156.5 386.3h0M93.6 430.6h0M168.8 358.5h0M157.7 385.4h0M157.9 368.4h0M134.0 387.9h0M99.6 424.7h0M182.6 356.4h0M180.7 358.9h0M190.8 347.1h0M128.7 393.5h0M184.1 346.5h0M164.3 377.8h0M128.0 396.7h0M186.6 344.5h0M182.0 357.5h0M101.3 420.6h0M152.0 394.9h0M154.1 369.6h0M146.9 377.2h0M150.7 393.8h0M183.8 346.3h0M92.3 433.4h0M195.7 337.1h0M129.3 394.1h0M177.1 363.1h0M109.1 413.9h0M162.5 380.9h0M185.8 352.8h0M92.4 430.6h0M115.1 409.3h0M128.7 416.7h0M188.6 350.7h0M137.2 387.1h0M108.6 415.8h0M139.2 405.0h0M174.5 366.0h0M149.3 394.5h0M182.5 357.2h0M181.8 358.6h0M146.1 397.9h0M184.2 354.5h0M172.8 355.5h0M111.1 412.5h0M101.7 423.1h0M195.2 337.0h0M159.5 365.4h0M186.7 344.8h0M153.1 390.7h0M142.5 382.8h0M145.4 399.6h0M119.9 425.0h0M123.6 421.2h0M172.2 368.9h0M156.7 369.2h0M194.9 338.2h0M187.5 350.9h0M155.4 368.0h0M161.6 381.8h0M136.8 408.7h0M168.7 359.3h0M116.0 428.7h0M191.3 341.1h0M166.0 361.2h0M118.5 403.7h0M122.2 398.9h0M174.0 354.8h0M111.1 412.6h0M93.7 431.6h0M132.6 390.5h0M176.4 352.4h0M161.2 364.5h0M107.1 416.3h0M156.2 389.7h0M178.1 362.1h0M181.8 357.7h0M102.9 418.8h0M171.9 356.6h0M146.2 377.9h0M142.9 402.3h0M195.4 337.2h0M126.8 392.8h0M136.7 387.0h0M187.8 343.9h0M132.8 414.0h0M123.5 421.0h0M183.3 356.1h0M101.1 442.4h0M107.5 416.8h0M142.3 401.9h0M128.4 395.9h0M155.2 368.8h0M126.9 393.2h0M128.9 417.7h0M159.8 366.4h0M140.9 403.8h0M104.1 418.8h0M194.2 342.5h0M104.4 438.5h0M174.9 352.7h0M130.8 391.1h0M181.8 348.0h0M123.9 400.2h0M156.3 368.1h0M195.7 337.3h0M102.9 420.9h0M170.5 357.6h0M120.6 403.3h0M177.7 351.7h0M106.4 416.3h0M168.6 373.3h0M114.6 409.9h0M179.0 360.9h0M93.6 428.1h0M108.5 416.2h0M195.2 342.2h0M142.9 380.8h0M141.7 402.5h0M105.6 415.5h0M144.3 399.8h0M105.0 440.0h0M104.4 439.6h0M174.5 365.8h0M195.0 338.2h0M171.3 371.6h0M157.0 388.0h0M124.4 400.3h0M177.7 352.3h0M122.1 426.6h0M164.0 377.7h0M170.3 358.1h0M141.9 382.4h0M157.3 366.5h0M188.1 350.6h0M111.2 413.5h0M169.7 371.6h0M176.6 365.2h0M125.9 419.1h0M107.1 436.0h0M144.9 379.0h0M145.7 377.8h0M191.6 340.5h0M143.8 400.6h0M151.7 393.4h0M167.0 374.7h0M101.8 440.5h0M169.1 372.3h0M188.7 342.0h0M178.0 352.0h0M105.4 415.4h0M192.0 340.6h0M174.2 366.2h0M162.0 380.4h0M154.8 370.5h0M123.6 422.8h0M177.8 351.3h0M112.2 412.7h0M114.6 430.5h0M139.4 385.4h0M182.8 356.5h0M156.8 367.9h0M184.6 346.1h0M115.6 407.5h0M169.7 372.5h0M159.6 365.8h0M97.1 426.1h0M174.3 354.9h0M174.5 366.9h0M149.4 373.3h0M135.0 409.8h0M148.0 377.4h0M185.6 353.3h0M134.2 389.4h0M195.8 337.4h0M158.6 385.6h0M158.8 384.5h0M146.3 397.8h0M132.1 414.6h0M116.9 427.7h0M194.9 337.8h0M169.4 372.4h0M130.5 414.0h0M186.7 352.4h0M130.9 415.3h0M141.7 405.4h0M158.8 384.3h0M180.2 347.8h0M152.4 391.5h0M160.1 383.5h0M123.5 400.1h0M114.2 430.3h0M156.4 369.1h0M174.6 366.5h0M146.9 376.7h0M181.5 358.1h0M111.4 413.2h0M170.3 358.2h0M160.4 365.7h0M138.2 406.4h0M113.8 430.8h0M134.9 387.7h0M195.1 341.1h0M109.6 435.5h0M123.3 399.1h0M155.8 369.7h0M189.1 342.6h0M148.8 394.9h0M151.3 373.7h0M98.1 425.3h0M109.9 413.6h0M134.0 390.5h0M127.9 416.6h0M176.4 364.3h0M105.0 437.9h0M129.8 416.6h0M197.2 338.6h0M93.5 430.8h0M155.9 387.3h0M99.5 424.7h0M130.0 389.0h0M91.8 434.8h0M194.0 343.2h0M167.6 375.3h0M107.1 413.0h0M141.5 380.9h0M105.0 417.3h0M133.6 388.0h0M153.2 390.1h0M188.6 343.1h0M191.3 346.7h0M120.8 423.7h0M143.8 381.0h0M181.4 347.8h0M133.8 390.4h0M128.8 415.8h0M119.7 404.0h0M179.0 361.2h0M123.2 399.9h0M97.6 423.9h0M101.0 422.0h0M140.4 405.0h0M110.0 433.5h0M167.0 374.5h0M118.5 406.0h0M166.3 376.2h0M197.0 336.0h0M194.4 337.5h0M147.8 376.8h0M127.0 397.9h0M120.2 425.8h0M134.3 412.6h0M141.7 403.7h0M118.5 403.4h0M169.9 372.8h0M165.4 361.9h0M157.0 386.1h0M141.4 403.9h0M182.5 348.2h0M151.9 371.4h0M143.5 380.2h0M148.6 395.2h0M167.9 357.7h0M177.6 351.8h0M181.0 358.4h0M183.3 356.6h0M155.8 368.8h0M109.6 414.7h0M138.5 406.4h0M131.9 391.0h0M137.2 408.6h0M188.4 343.5h0M138.5 407.5h0M109.7 436.1h0M145.4 399.9h0M171.0 357.4h0M102.7 422.1h0M126.4 419.8h0M178.7 361.0h0M108.8 416.1h0M140.9 404.2h0M164.3 361.9h0M145.4 378.0h0M168.7 375.0h0M98.9 443.4h0M158.6 366.3h0M172.7 368.4h0M149.1 375.9h0M128.3 395.0h0M182.7 348.1h0M110.6 434.0h0M154.8 370.6h0M131.8 393.1h0M129.2 415.8h0M177.6 352.4h0M116.6 407.0h0M161.5 362.8h0M169.3 374.1h0M191.0 346.4h0M174.7 365.7h0M182.6 348.2h0M187.7 350.3h0M101.2 423.7h0M197.6 337.8h0M188.2 350.3h0M158.0 368.0h0M143.9 380.3h0M91.8 431.8h0M141.5 403.5h0M147.6 396.8h0M99.4 443.6h0M119.2 426.2h0M183.3 355.7h0M153.8 370.4h0M183.2 347.6h0M152.9 390.4h0M198.5 337.6h0M146.7 397.6h0M101.6 423.5h0M152.4 372.1h0M119.6 426.0h0M120.9 423.6h0M119.3 405.2h0M135.9 410.4h0M138.1 386.3h0M192.4 345.0h0M120.9 424.7h0M163.0 379.9h0M188.6 342.2h0M194.2 338.7h0M110.1 435.3h0M179.2 349.6h0M133.1 412.0h0M145.4 399.4h0M191.2 346.9h0M124.2 421.2h0M125.3 396.9h0M102.4 440.1h0M120.1 404.8h0M185.7 345.3h0M96.3 425.0h0M132.5 412.8h0M155.5 368.0h0M178.1 361.7h0M168.4 357.5h0M129.9 416.7h0M94.9 428.8h0M192.9 344.3h0M119.5 403.4h0M127.3 417.6h0M183.5 347.1h0M196.6 336.1h0M166.5 360.5h0M126.7 419.8h0M183.5 347.5h0M179.1 360.6h0M172.0 369.2h0M196.9 338.6h0M186.7 344.5h0M134.7 410.5h0M178.9 350.9h0M188.1 350.7h0M138.6 386.5h0M151.6 392.0h0M145.8 398.6h0M118.5 426.6h0M153.5 371.1h0M136.5 409.1h0M104.3 440.0h0M149.8 393.9h0M165.7 376.5h0M178.0 351.8h0M190.4 347.3h0M192.5 344.8h0M149.4 395.4h0M182.3 357.2h0M178.4 350.5h0M170.5 371.7h0M93.7 426.9h0M136.0 388.3h0M195.5 342.2h0M126.7 417.8h0M122.6 422.2h0M147.6 398.6h0M116.6 405.4h0M181.6 358.2h0M93.4 431.0h0M118.5 405.0h0M126.0 419.2h0M114.3 410.6h0M106.0 437.2h0M161.0 382.4h0M162.5 381.7h0M154.7 391.6h0M141.2 383.4h0M124.3 420.6h0M121.6 402.5h0M106.6 436.9h0M153.4 370.8h0M180.4 348.8h0M196.9 339.0h0M124.1 421.5h0M132.0 412.7h0M178.0 362.7h0M164.4 362.6h0M161.0 383.2h0M188.4 350.2h0M152.2 373.5h0M190.5 346.8h0M110.3 433.6h0M163.4 379.6h0M190.8 347.3h0M170.0 372.5h0M183.8 347.1h0M165.5 376.7h0M193.6 343.5h0M139.4 405.5h0M133.3 411.3h0M188.9 342.4h0M119.2 426.1h0M134.6 389.5h0M98.7 425.7h0M195.2 337.8h0M95.1 430.1h0M121.3 423.4h0M103.7 415.8h0M132.3 388.5h0M154.5 369.1h0M121.0 402.3h0M93.0 433.3h0M133.7 411.9h0M175.2 367.8h0M92.2 433.8h0M111.8 432.4h0M178.9 350.9h0M100.4 420.3h0M153.8 391.2h0M184.0 347.1h0M194.6 341.8h0M147.1 398.6h0M111.0 432.6h0M98.1 425.8h0M166.4 359.1h0M125.3 399.2h0M196.3 339.5h0M124.1 399.5h0M161.0 382.9h0M153.0 390.5h0M99.4 422.8h0M153.2 371.6h0M141.0 382.4h0M148.4 395.6h0M144.0 380.3h0M147.4 397.4h0M148.9 375.6h0M143.3 380.6h0M164.1 362.1h0M194.8 341.5h0M155.4 368.6h0M168.7 359.4h0M162.0 382.2h0M175.3 365.9h0M101.2 442.9h0M180.4 358.9h0M195.2 341.3h0M192.5 344.8h0M118.5 406.4h0M179.5 350.2h0M123.5 399.3h0M141.1 405.1h0M149.8 393.8h0M142.0 402.5h0M175.9 352.8h0M121.7 403.0h0M130.6 413.9h0M175.1 353.9h0M125.1 419.5h0M172.3 355.3h0M154.0 368.5h0M172.1 371.4h0M113.7 409.1h0M158.8 367.2h0M114.6 410.3h0M155.8 387.7h0M180.4 350.0h0M197.0 335.9h0M120.7 424.5h0M158.4 367.8h0M147.3 397.0h0M112.8 433.3h0M132.2 413.1h0M162.7 363.5h0M108.0 435.8h0M116.2 408.7h0M131.4 391.0h0M155.7 387.5h0M163.9 363.3h0M185.2 353.9h0M150.1 373.1h0M109.1 413.4h0M115.0 406.7h0M161.3 365.5h0M171.8 356.9h0M109.9 433.8h0M92.0 428.9h0M105.2 439.3h0M175.1 353.0h0M189.2 342.5h0M183.8 356.0h0M102.4 421.2h0M193.0 339.5h0M171.3 370.5h0M126.8 394.4h0M160.5 384.1h0M171.2 356.7h0M196.9 336.5h0M119.8 425.8h0M183.4 356.8h0M152.3 392.8h0M193.1 344.3h0M153.5 389.7h0M125.7 398.4h0M183.1 347.5h0M171.1 370.2h0M174.7 367.3h0M112.6 432.2h0M187.3 350.7h0M189.8 341.4h0M141.1 383.7h0M192.2 339.4h0M130.1 416.1h0M164.5 381.8h0M150.0 395.7h0M159.3 365.1h0M138.5 406.2h0M171.6 356.8h0M117.3 427.6h0M127.4 417.2h0M184.6 355.1h0M159.5 366.6h0M150.8 392.8h0M197.4 338.1h0M92.2 432.8h0M188.0 350.2h0M133.6 389.1h0M194.3 338.6h0M153.6 372.1h0M164.5 378.0h0M129.6 415.3h0M188.8 342.1h0M109.4 413.8h0M159.3 367.2h0M139.9 405.8h0M126.0 398.9h0M123.3 421.1h0M175.3 365.3h0M176.5 363.8h0M167.1 374.7h0M133.8 391.0h0M141.0 379.7h0M123.4 400.6h0M171.1 356.5h0M191.2 346.5h0M146.5 398.1h0M165.7 377.1h0M157.4 389.4h0M175.6 365.5h0M135.3 410.6h0M190.4 341.6h0M174.0 366.9h0M153.0 391.1h0M146.2 377.7h0M127.5 394.1h0M197.7 338.0h0M131.3 414.2h0M120.3 402.3h0M171.3 357.2h0M169.3 372.7h0M93.6 431.5h0M140.8 383.4h0M141.5 402.8h0M91.9 434.8h0M157.2 385.4h0M196.3 340.1h0M168.4 372.8h0M111.2 412.8h0M177.9 362.0h0M174.9 365.9h0M192.7 339.5h0M187.4 343.6h0M134.7 409.9h0M109.6 415.2h0M91.8 431.3h0M116.8 405.7h0M121.3 424.3h0M190.0 348.1h0M126.8 419.2h0M181.2 359.0h0M198.1 337.7h0M163.6 362.9h0M90.9 435.6h0M148.6 375.2h0M141.8 404.3h0M111.8 433.6h0M159.1 366.7h0M162.7 380.4h0M137.3 386.7h0M114.2 431.2h0M122.9 424.1h0M141.6 383.5h0M164.0 361.9h0M142.1 383.1h0M129.9 392.0h0M147.7 398.1h0M118.0 402.1h0M97.1 420.9h0M126.4 397.2h0M130.6 371.4h0M114.4 404.5h0M115.9 387.7h0M128.3 390.6h0M98.3 423.5h0M108.2 412.0h0M146.0 375.5h0M104.9 417.4h0M125.4 398.6h0M121.7 401.4h0M119.9 402.4h0M110.9 405.5h0M144.7 374.8h0M118.5 404.7h0M108.4 407.8h0M155.6 365.8h0M113.3 409.4h0M101.2 420.9h0M156.1 369.0h0M97.7 426.6h0M140.2 381.7h0M141.3 376.1h0M119.2 402.1h0M97.8 418.3h0M92.3 428.0h0M106.1 417.7h0M139.1 381.3h0M111.7 411.9h0M158.2 365.8h0M130.1 388.1h0M125.0 383.3h0M121.9 398.0h0M123.8 396.0h0M127.2 385.3h0M155.6 366.9h0M129.6 393.2h0M90.8 433.2h0M111.3 409.6h0M112.3 410.9h0M105.6 412.6h0M101.2 401.6h0M178.7 346.4h0M117.1 404.0h0M96.3 421.0h0M119.0 398.3h0M126.3 391.9h0M94.5 426.8h0M114.3 409.2h0M131.7 387.4h0M139.3 380.8h0M94.3 429.9h0M121.7 400.2h0M125.4 387.4h0M148.9 374.4h0M114.5 400.8h0M136.3 386.9h0M102.2 420.7h0M129.2 394.4h0M152.9 367.1h0M96.2 424.9h0M109.2 400.4h0M117.5 399.7h0M99.8 422.7h0M92.8 426.8h0M116.4 400.4h0M135.6 378.8h0M111.4 402.3h0M120.5 398.8h0M110.1 409.3h0M147.7 374.3h0M135.9 385.3h0M111.8 408.7h0M117.6 381.4h0M95.9 423.8h0M106.1 401.3h0M132.6 389.9h0M154.8 369.3h0M132.6 391.4h0M135.3 384.6h0M138.8 384.9h0M126.5 395.9h0M119.3 402.3h0M143.3 378.2h0M121.7 399.4h0M127.9 395.8h0M119.2 403.5h0M113.3 410.0h0M107.3 416.6h0M89.3 419.2h0M149.8 371.0h0M118.8 400.8h0M132.0 391.3h0M102.7 416.7h0M114.8 381.4h0M137.1 383.9h0M110.1 413.8h0M104.3 419.5h0M144.5 378.8h0M124.3 393.8h0M105.9 397.8h0M119.5 403.0h0M146.1 376.8h0M120.5 402.8h0M131.2 377.6h0M122.8 399.8h0M141.5 378.4h0M140.7 383.0h0M152.3 372.5h0M110.5 400.4h0M113.3 407.0h0M126.5 389.7h0M190.0 340.3h0M95.6 422.2h0M98.7 422.1h0M99.6 408.1h0M133.8 378.1h0M146.6 372.5h0M98.4 418.0h0M111.1 408.3h0M114.2 408.4h0M180.3 346.0h0M115.9 407.7h0M110.8 413.0h0M116.7 398.7h0M105.6 416.0h0M120.4 387.5h0M119.1 401.1h0M129.0 393.0h0M101.8 413.5h0M120.3 395.2h0M111.9 408.7h0M146.7 376.2h0M150.7 368.8h0M104.5 416.5h0M147.1 375.3h0M148.6 374.9h0M104.7 416.7h0M133.6 388.9h0M130.1 390.3h0M95.9 428.0h0M94.3 425.2h0M113.7 403.7h0M126.8 389.4h0M119.4 401.6h0M117.6 403.5h0M130.1 393.1h0M98.9 419.1h0M128.4 393.5h0M153.6 368.1h0M108.8 415.1h0M109.3 414.5h0M105.9 410.5h0M95.2 424.4h0M112.4 394.8h0M143.0 380.3h0M95.7 398.3h0M131.0 391.4h0M127.5 389.0h0M146.2 376.3h0M151.3 368.7h0M118.3 399.9h0M99.3 423.2h0M155.8 366.9h0M171.5 353.5h0M127.4 390.1h0M124.0 398.4h0M115.5 408.3h0M105.6 410.3h0M145.5 379.0h0M115.4 402.7h0M104.8 402.7h0M97.2 426.0h0M98.5 425.0h0M111.0 412.4h0M171.9 354.4h0M123.2 395.7h0M113.3 402.1h0M136.5 387.2h0M130.3 389.8h0M133.2 380.4h0M119.4 403.6h0M159.1 366.0h0M120.4 397.1h0M113.7 393.9h0M112.2 403.1h0M117.0 406.6h0M107.6 411.1h0M93.2 410.3h0M138.1 386.1h0M98.2 423.0h0M131.8 390.8h0M109.8 402.9h0M119.5 399.7h0M119.5 398.6h0M124.1 398.9h0M134.9 385.5h0M98.9 420.6h0M101.9 420.5h0M83.1 424.5h0M110.1 411.7h0M127.0 388.7h0M154.4 368.2h0M156.5 368.1h0M107.6 398.0h0M113.9 401.6h0M126.4 393.6h0M126.6 395.6h0M128.1 394.9h0M146.1 373.8h0M166.4 359.8h0M129.2 394.8h0M114.5 404.1h0M136.0 387.9h0M95.7 420.5h0M118.9 403.7h0M144.8 374.3h0M149.0 371.4h0M93.6 424.1h0M137.3 382.1h0M127.2 393.6h0M118.1 399.9h0M100.0 421.8h0M95.0 421.5h0M130.4 393.2h0M100.7 421.3h0M136.5 383.5h0M135.8 367.6h0M104.0 416.6h0M118.7 405.2h0M137.2 383.4h0M100.3 423.4h0M116.9 399.7h0M99.8 424.3h0M151.2 367.2h0M101.5 419.3h0M109.8 413.7h0M115.3 399.3h0M120.3 393.7h0M140.2 376.8h0M127.7 396.3h0M172.5 355.0h0M148.3 366.9h0M107.8 415.5h0M138.9 379.0h0M116.6 402.3h0M144.9 373.7h0M108.6 414.7h0M122.7 400.6h0M112.0 408.0h0M117.3 404.9h0M127.9 396.1h0M122.6 393.7h0M92.6 420.1h0M137.2 385.2h0M123.6 400.4h0M159.5 364.7h0M163.0 360.7h0M168.4 358.2h0M126.7 392.6h0M131.4 392.5h0M97.4 425.0h0M115.6 389.3h0M143.2 362.7h0M123.3 392.2h0M113.4 398.8h0M124.3 399.6h0M109.5 412.4h0M94.4 400.1h0M151.3 366.4h0M131.4 388.1h0M93.1 426.6h0M138.9 378.8h0M117.7 401.1h0M112.6 409.3h0M175.4 345.3h0M128.0 391.6h0M128.6 395.5h0M117.8 403.8h0M128.0 382.9h0M147.5 372.6h0M126.8 394.3h0M135.9 387.8h0M125.0 397.3h0M124.6 394.9h0M139.0 382.7h0M123.4 396.8h0M137.8 384.2h0M125.6 397.9h0M123.6 393.3h0M138.2 383.0h0M132.4 389.6h0M171.1 352.4h0M110.1 411.4h0M125.6 397.6h0M120.2 391.6h0M117.4 395.2h0M101.5 420.4h0M121.2 400.9h0M120.0 403.8h0M97.7 424.1h0M94.0 430.0h0M124.0 398.6h0M167.8 377.4h0M162.3 382.8h0M141.7 404.3h0M152.4 395.9h0M137.8 414.7h0M106.5 438.1h0M120.1 427.1h0M159.2 384.5h0M148.5 397.2h0M137.6 412.2h0M165.3 378.3h0M176.9 367.3h0M176.0 366.6h0M139.9 415.9h0M137.3 413.1h0M150.0 396.7h0M108.4 436.6h0M159.4 385.6h0M171.7 385.3h0M173.4 371.3h0M111.5 435.7h0M144.4 402.9h0M183.9 372.5h0M165.3 379.1h0M117.4 432.7h0M138.7 432.4h0M144.5 434.0h0M178.5 362.9h0M167.2 378.4h0M139.6 407.9h0M145.5 399.5h0M138.1 407.6h0M141.9 417.1h0M146.3 400.7h0M151.7 398.7h0M171.8 371.1h0M136.9 410.5h0M174.3 368.2h0M146.6 400.3h0M129.3 419.0h0M177.6 365.7h0M133.9 413.1h0M148.4 399.3h0M146.9 411.6h0M135.9 414.4h0M133.2 417.7h0M120.5 426.1h0M151.6 400.8h0M158.0 387.1h0M152.1 394.0h0M158.0 386.8h0M150.0 394.7h0M141.3 404.2h0M182.0 373.6h0M155.8 389.7h0M145.6 404.8h0M159.9 391.4h0M179.4 368.3h0M179.7 363.8h0M134.9 414.0h0M158.3 391.9h0M174.4 379.8h0M154.8 393.9h0M150.0 394.7h0M160.6 385.6h0M162.8 388.5h0M153.0 396.0h0M149.1 396.6h0M138.3 408.8h0M162.3 381.8h0M173.4 369.9h0M177.7 375.3h0M132.2 414.9h0M128.5 423.5h0M148.8 395.8h0M148.6 398.8h0M156.7 392.1h0M181.1 361.1h0M156.6 394.8h0M144.7 416.2h0M150.0 397.5h0M157.7 387.7h0M188.6 354.1h0M141.6 404.6h0M120.6 429.5h0M167.2 378.2h0M194.8 368.3h0M191.6 352.8h0M153.7 405.5h0M151.5 395.2h0M174.2 370.8h0M152.4 392.1h0M129.2 427.2h0M175.2 371.8h0M155.8 397.5h0M149.5 397.5h0M133.1 439.3h0M118.3 428.3h0M153.8 400.7h0M171.6 372.7h0M193.0 349.2h0M158.8 387.1h0M170.5 372.7h0M145.5 403.4h0M153.3 401.6h0M140.6 405.1h0M152.3 399.8h0M177.2 371.8h0M158.7 397.3h0M184.2 365.8h0M158.9 386.8h0M139.2 408.3h0M129.9 415.7h0M133.2 412.8h0M164.3 382.8h0M184.7 357.2h0M126.2 425.3h0M147.5 407.4h0M179.1 363.2h0M144.1 412.2h0M124.5 426.2h0M152.4 392.4h0M174.4 383.5h0M132.9 415.3h0M152.3 392.3h0M153.2 393.2h0M149.9 413.2h0M147.3 399.3h0M135.3 412.4h0M171.1 372.5h0M149.2 396.1h0M144.3 401.1h0M117.7 430.0h0M162.0 388.6h0M157.0 416.2h0M156.4 396.2h0M171.9 369.9h0M176.5 365.2h0M148.3 399.0h0M172.0 371.0h0M183.2 357.1h0M123.5 422.5h0M151.8 395.2h0M141.2 404.0h0M153.8 391.3h0M167.5 374.8h0M161.4 387.9h0M123.1 425.3h0M181.6 363.5h0M166.7 383.8h0M137.9 411.4h0M148.7 396.6h0M188.0 352.3h0M145.6 401.8h0M173.4 380.2h0M168.3 397.9h0M136.9 418.3h0M167.6 376.5h0M127.6 426.0h0M171.9 374.4h0M162.8 381.9h0M157.3 386.6h0M186.8 353.5h0M166.4 377.7h0M159.1 388.9h0M125.0 421.9h0M158.1 388.7h0M94.7 383.5h0" stroke="#0d0d0d" stroke-width="2.0" stroke-linecap="round"/>
<line x1="92.3" y1="434.1" x2="170.8" y2="355.6" stroke="#d0d0d0" stroke-width="0.9" />
<line x1="120.0" y1="424.8" x2="162.0" y2="382.8" stroke="#c0c0c0" stroke-width="0.8" />
<rect x="48.5" y="326.4" width="159.5" height="158.9" fill="none" stroke="#111" stroke-width="1.3"/>
<line x1="80.3" y1="485.3" x2="80.3" y2="482.8" stroke="#555" stroke-width="0.8" />
<line x1="48.5" y1="453.5" x2="51.0" y2="453.5" stroke="#555" stroke-width="0.8" />
<line x1="112.1" y1="485.3" x2="112.1" y2="482.8" stroke="#555" stroke-width="0.8" />
<line x1="48.5" y1="421.7" x2="51.0" y2="421.7" stroke="#555" stroke-width="0.8" />
<line x1="143.9" y1="485.3" x2="143.9" y2="482.8" stroke="#555" stroke-width="0.8" />
<line x1="48.5" y1="389.9" x2="51.0" y2="389.9" stroke="#555" stroke-width="0.8" />
<line x1="175.7" y1="485.3" x2="175.7" y2="482.8" stroke="#555" stroke-width="0.8" />
<line x1="48.5" y1="358.1" x2="51.0" y2="358.1" stroke="#555" stroke-width="0.8" />
<text x="44.2" y="492.1" font-size="8.8" text-anchor="end" >0</text>
<text x="44.2" y="456.9" font-size="8.8" text-anchor="end" >10</text>
<text x="44.7" y="425.3" font-size="8.8" text-anchor="end">10<tspan font-size="5.2" dy="-2.9">2</tspan></text>
<text x="44.7" y="393.5" font-size="8.8" text-anchor="end">10<tspan font-size="5.2" dy="-2.9">3</tspan></text>
<text x="44.7" y="361.7" font-size="8.8" text-anchor="end">10<tspan font-size="5.2" dy="-2.9">4</tspan></text>
<text x="44.7" y="329.9" font-size="8.8" text-anchor="end">10<tspan font-size="5.2" dy="-2.9">5</tspan></text>
<text x="42.5" y="492.4" font-size="8.8" text-anchor="start" ></text>
<text x="81.9" y="496.7" font-size="8.8" text-anchor="middle" >10</text>
<text x="113.7" y="496.7" font-size="8.8" text-anchor="middle">10<tspan font-size="5.2" dy="-3.0">2</tspan></text>
<text x="145.5" y="496.7" font-size="8.8" text-anchor="middle">10<tspan font-size="5.2" dy="-3.0">3</tspan></text>
<text x="177.3" y="496.7" font-size="8.8" text-anchor="middle">10<tspan font-size="5.2" dy="-3.0">4</tspan></text>
<text x="209.1" y="496.7" font-size="8.8" text-anchor="middle">10<tspan font-size="5.2" dy="-3.0">5</tspan></text>
<text x="69.6" y="341.6" font-size="9.2" text-anchor="start" >265 genes</text>
<text x="52.4" y="353" font-size="9.4" text-anchor="start" >(</text>
<g transform="translate(56.6,353.7) scale(1.08)" stroke="#333" stroke-width="0.8" fill="none"><polyline points="0.3,-8.4 6.4,-5.8 0.3,-3.4"/><line x1="0.3" y1="-2" x2="6.4" y2="-2"/><line x1="0.3" y1="-0.3" x2="6.4" y2="-0.3"/></g>
<text x="64.8" y="353" font-size="9.4" text-anchor="start" >2-fold increase)</text>
<text x="142.4" y="462.4" font-size="9.2" text-anchor="start" >173 genes</text>
<text x="123.4" y="473.6" font-size="9.4" text-anchor="start" >(</text>
<g transform="translate(127.6,474.3) scale(1.08)" stroke="#333" stroke-width="0.8" fill="none"><polyline points="0.3,-8.4 6.4,-5.8 0.3,-3.4"/><line x1="0.3" y1="-2" x2="6.4" y2="-2"/><line x1="0.3" y1="-0.3" x2="6.4" y2="-0.3"/></g>
<text x="135.8" y="473.6" font-size="9.4" text-anchor="start" >2-fold decrease)</text>
<text x="148.7" y="340.9" font-size="9.1" text-anchor="start" font-style="italic" >Egr1</text>
<line x1="156.4" y1="345.5" x2="156.4" y2="354" stroke="#1a1a1a" stroke-width="0.8" />
<path d="M154.4,351.5 L156.4,355.5 L158.4,351.5" fill="none" stroke="#1a1a1a" stroke-width="0.8"/>
<path d="M156.5,359.8 L158.6,361.9 L156.5,364.0 L154.4,361.9 Z" fill="#fff" stroke="#111" stroke-width="0.9"/>
<text x="90.2" y="510" font-size="10.5"><tspan font-style="italic">Ezh2</tspan><tspan font-size="5.8" dy="-3.9">+/+</tspan><tspan dy="3.9"> (Average)</tspan></text>
<text transform="translate(25,399.1) rotate(-90)" font-size="10.7" text-anchor="middle"><tspan font-style="italic">Ezh2</tspan><tspan font-size="5.8" dy="-3.9">Δ/Δ</tspan><tspan dy="3.9"> (Average)</tspan></text>
<line x1="278.6" y1="327.4" x2="278.6" y2="486.9" stroke="#1a1a1a" stroke-width="1.1" />
<line x1="471.3" y1="328" x2="471.3" y2="486.9" stroke="#1a1a1a" stroke-width="1.1" />
<line x1="278.1" y1="486.4" x2="471.8" y2="486.4" stroke="#1a1a1a" stroke-width="1.1" />
<line x1="275.2" y1="486.4" x2="278.6" y2="486.4" stroke="#1a1a1a" stroke-width="1.0" />
<text x="274.2" y="489.09999999999997" font-size="9.4" text-anchor="end" >1.0</text>
<line x1="275.2" y1="470.53999999999996" x2="278.6" y2="470.53999999999996" stroke="#1a1a1a" stroke-width="1.0" />
<text x="274.2" y="473.23999999999995" font-size="9.4" text-anchor="end" >1.2</text>
<line x1="275.2" y1="454.68" x2="278.6" y2="454.68" stroke="#1a1a1a" stroke-width="1.0" />
<text x="274.2" y="457.38" font-size="9.4" text-anchor="end" >1.4</text>
<line x1="275.2" y1="438.82" x2="278.6" y2="438.82" stroke="#1a1a1a" stroke-width="1.0" />
<text x="274.2" y="441.52" font-size="9.4" text-anchor="end" >1.6</text>
<line x1="275.2" y1="422.96" x2="278.6" y2="422.96" stroke="#1a1a1a" stroke-width="1.0" />
<text x="274.2" y="425.65999999999997" font-size="9.4" text-anchor="end" >1.8</text>
<line x1="275.2" y1="407.09999999999997" x2="278.6" y2="407.09999999999997" stroke="#1a1a1a" stroke-width="1.0" />
<text x="274.2" y="409.79999999999995" font-size="9.4" text-anchor="end" >2.0</text>
<line x1="275.2" y1="391.23999999999995" x2="278.6" y2="391.23999999999995" stroke="#1a1a1a" stroke-width="1.0" />
<text x="274.2" y="393.93999999999994" font-size="9.4" text-anchor="end" >2.2</text>
<line x1="275.2" y1="375.37999999999994" x2="278.6" y2="375.37999999999994" stroke="#1a1a1a" stroke-width="1.0" />
<text x="274.2" y="378.0799999999999" font-size="9.4" text-anchor="end" >2.4</text>
<line x1="275.2" y1="359.52" x2="278.6" y2="359.52" stroke="#1a1a1a" stroke-width="1.0" />
<text x="274.2" y="362.21999999999997" font-size="9.4" text-anchor="end" >2.6</text>
<line x1="275.2" y1="343.65999999999997" x2="278.6" y2="343.65999999999997" stroke="#1a1a1a" stroke-width="1.0" />
<text x="274.2" y="346.35999999999996" font-size="9.4" text-anchor="end" >2.8</text>
<line x1="275.2" y1="327.79999999999995" x2="278.6" y2="327.79999999999995" stroke="#1a1a1a" stroke-width="1.0" />
<text x="274.2" y="330.49999999999994" font-size="9.4" text-anchor="end" >3.0</text>
<line x1="471.3" y1="486.4" x2="473.9" y2="486.4" stroke="#1a1a1a" stroke-width="1.0" />
<text x="475.6" y="488.59999999999997" font-size="7.5" text-anchor="start" >0</text>
<line x1="471.3" y1="470.53999999999996" x2="473.9" y2="470.53999999999996" stroke="#1a1a1a" stroke-width="1.0" />
<text x="496.6" y="473.93999999999994" font-size="9.4" text-anchor="end" >200</text>
<line x1="471.3" y1="454.67999999999995" x2="473.9" y2="454.67999999999995" stroke="#1a1a1a" stroke-width="1.0" />
<text x="496.6" y="458.0799999999999" font-size="9.4" text-anchor="end" >400</text>
<line x1="471.3" y1="438.82" x2="473.9" y2="438.82" stroke="#1a1a1a" stroke-width="1.0" />
<text x="496.6" y="442.21999999999997" font-size="9.4" text-anchor="end" >600</text>
<line x1="471.3" y1="422.96" x2="473.9" y2="422.96" stroke="#1a1a1a" stroke-width="1.0" />
<text x="496.6" y="426.35999999999996" font-size="9.4" text-anchor="end" >800</text>
<line x1="471.3" y1="407.09999999999997" x2="473.9" y2="407.09999999999997" stroke="#1a1a1a" stroke-width="1.0" />
<text x="496.6" y="410.49999999999994" font-size="9.4" text-anchor="end" >1000</text>
<line x1="471.3" y1="391.24" x2="473.9" y2="391.24" stroke="#1a1a1a" stroke-width="1.0" />
<text x="496.6" y="394.64" font-size="9.4" text-anchor="end" >1200</text>
<line x1="471.3" y1="375.38" x2="473.9" y2="375.38" stroke="#1a1a1a" stroke-width="1.0" />
<text x="496.6" y="378.78" font-size="9.4" text-anchor="end" >1400</text>
<line x1="471.3" y1="359.52" x2="473.9" y2="359.52" stroke="#1a1a1a" stroke-width="1.0" />
<text x="496.6" y="362.91999999999996" font-size="9.4" text-anchor="end" >1600</text>
<line x1="471.3" y1="343.65999999999997" x2="473.9" y2="343.65999999999997" stroke="#1a1a1a" stroke-width="1.0" />
<text x="496.6" y="347.05999999999995" font-size="9.4" text-anchor="end" >1800</text>
<line x1="467.2" y1="334.5" x2="474.8" y2="330.6" stroke="#1a1a1a" stroke-width="0.9" />
<line x1="467.2" y1="336.3" x2="474.8" y2="332.4" stroke="#1a1a1a" stroke-width="0.9" />
<rect x="470.6" y="332.6" width="1.4" height="1.8" fill="#fff" />
<rect x="286.7" y="463.00649999999996" width="11.2" height="23.393500000000017" fill="#666" stroke="#555" stroke-width="0.5"/>
<text x="293.6" y="496.6" font-size="8.8" text-anchor="middle" >0-1</text>
<rect x="314.7" y="328" width="11.2" height="158.39999999999998" fill="#666" stroke="#555" stroke-width="0.5"/>
<rect x="311.3" y="331.2" width="18.5" height="4" fill="#fff" />
<line x1="311.3" y1="331.7" x2="330.8" y2="331.7" stroke="#1a1a1a" stroke-width="1.2" />
<line x1="311.3" y1="334.5" x2="330.8" y2="334.5" stroke="#1a1a1a" stroke-width="1.2" />
<text x="321.6" y="496.6" font-size="8.8" text-anchor="middle" >1-2</text>
<rect x="341.4" y="369.5118" width="11.2" height="116.88819999999998" fill="#666" stroke="#555" stroke-width="0.5"/>
<text x="348.3" y="496.6" font-size="8.8" text-anchor="middle" >2-3</text>
<rect x="369.0" y="450.39779999999996" width="11.2" height="36.002200000000016" fill="#666" stroke="#555" stroke-width="0.5"/>
<text x="375.90000000000003" y="496.6" font-size="8.8" text-anchor="middle" >3-4</text>
<rect x="396.59999999999997" y="469.9849" width="11.2" height="16.415099999999995" fill="#666" stroke="#555" stroke-width="0.5"/>
<text x="403.5" y="496.6" font-size="8.8" text-anchor="middle" >4-5</text>
<rect x="423.79999999999995" y="483.3866" width="11.2" height="3.01339999999999" fill="#666" stroke="#555" stroke-width="0.5"/>
<text x="430.7" y="496.6" font-size="8.8" text-anchor="middle" >5-6</text>
<rect x="451.59999999999997" y="466.9715" width="11.2" height="19.428499999999985" fill="#666" stroke="#555" stroke-width="0.5"/>
<text x="458.5" y="496.6" font-size="8.8" text-anchor="middle" >6-16</text>
<text x="320.5" y="323.0" font-size="6.2" text-anchor="middle" >13103</text>
<polyline points="292,447.4 319.5,434 346.8,396.4 374.5,386.3 402,398 429.4,386 457,377.3" fill="none" stroke="#111" stroke-width="1.9"/>
<circle cx="292" cy="447.4" r="2.6" fill="#111"/>
<circle cx="319.5" cy="434" r="2.6" fill="#111"/>
<circle cx="346.8" cy="396.4" r="2.6" fill="#111"/>
<circle cx="374.5" cy="386.3" r="2.6" fill="#111"/>
<circle cx="402" cy="398" r="2.6" fill="#111"/>
<circle cx="429.4" cy="386" r="2.6" fill="#111"/>
<circle cx="457" cy="377.3" r="2.6" fill="#111"/>
<text x="378" y="510.4" font-size="10.4" text-anchor="middle" >Fold enrichment of H3K27me3 (IP/input)</text>
<text transform="translate(240.6,406) rotate(-90)" font-size="10.3" text-anchor="middle">Expression fold change</text>
<text transform="translate(252.6,405.8) rotate(-90)" font-size="10.3" text-anchor="middle">(<tspan font-style="italic">Ezh2</tspan><tspan font-size="6" dy="-4">Δ/Δ</tspan><tspan dy="4">/</tspan><tspan font-style="italic">Ezh2</tspan><tspan font-size="6" dy="-4">+/+</tspan><tspan dy="4">)</tspan></text>
<text transform="translate(510,407.8) rotate(-90)" font-size="10.3" text-anchor="middle">Gene number</text>
</svg></body></html>
